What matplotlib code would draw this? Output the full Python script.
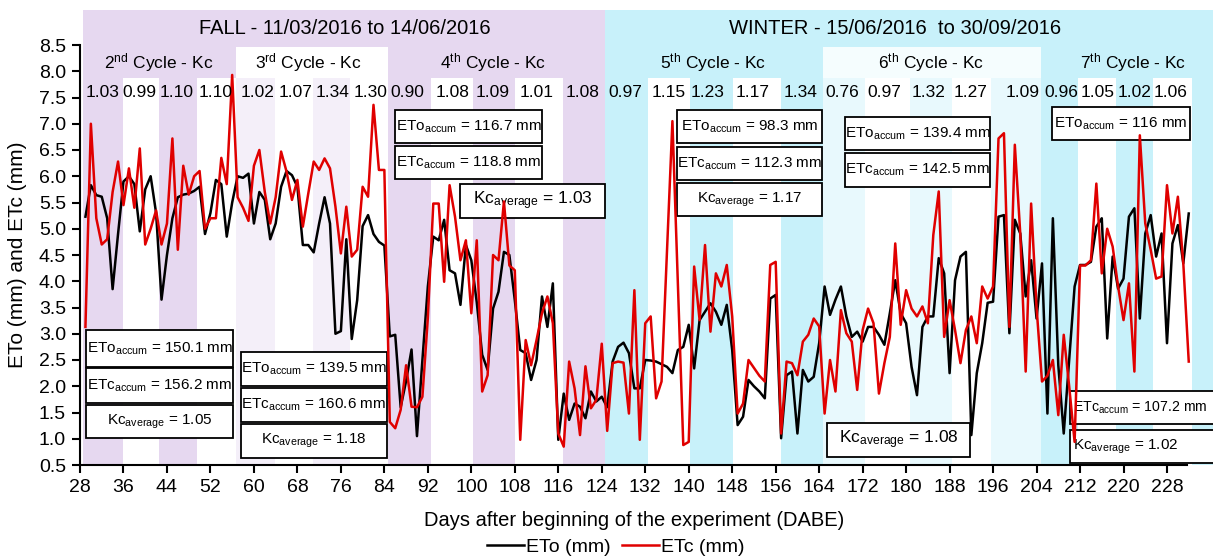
import numpy as np
import matplotlib.pyplot as plt
from matplotlib.patches import Rectangle
from matplotlib.lines import Line2D

plt.rcParams['font.family'] = ['Liberation Sans', 'DejaVu Sans']
plt.rcParams['mathtext.default'] = 'regular'

# daily reference evapotranspiration (ETo) and crop evapotranspiration (ETc), days 29..232
eto = [5.23, 5.83, 5.64, 5.61, 5.2, 3.85, 4.9, 5.9, 6.0, 5.85,
       4.95, 5.75, 6.0, 5.3, 3.65, 4.5, 5.2, 5.6, 5.65, 5.67,
       5.72, 5.8, 4.9, 5.3, 5.93, 5.85, 4.85, 5.5, 6.0, 5.97,
       6.05, 5.1, 5.7, 5.55, 4.8, 5.1, 5.8, 6.1, 6.02, 5.8,
       4.69, 4.69, 4.55, 5.1, 5.6, 5.1, 3.0, 3.05, 4.8, 2.9,
       3.64, 5.05, 5.26, 4.9, 4.75, 4.68, 2.95, 2.98, 1.6, 2.1,
       2.7, 1.05, 2.5, 3.9, 4.85, 4.78, 5.17, 4.21, 4.15, 3.55,
       4.69, 4.4, 3.6, 2.6, 2.31, 3.48, 3.8, 4.56, 4.5, 3.64,
       2.69, 2.63, 2.12, 2.5, 3.71, 3.13, 3.96, 0.98, 1.86, 1.36,
       1.67, 1.61, 1.39, 1.9, 1.71, 1.8, 1.6, 2.47, 2.75, 2.83,
       2.63, 1.96, 1.96, 2.5, 2.49, 2.47, 2.42, 2.37, 2.25, 2.69,
       2.75, 3.17, 2.34, 3.26, 3.42, 3.58, 3.42, 3.17, 3.55, 2.69,
       1.26, 1.42, 2.12, 2.0, 1.9, 1.77, 3.67, 3.74, 1.01, 2.21,
       2.28, 1.1, 2.31, 2.09, 2.18, 2.82, 3.9, 3.36, 3.65, 3.9,
       3.33, 2.94, 3.04, 2.85, 3.13, 3.13, 2.98, 2.79, 3.39, 4.02,
       3.39, 3.2, 2.37, 1.83, 3.13, 3.33, 3.33, 4.44, 4.15, 2.25,
       4.02, 4.47, 4.56, 1.07, 2.25, 2.82, 3.59, 3.61, 5.23, 5.26,
       3.01, 5.17, 4.91, 3.71, 4.4, 3.29, 4.34, 1.48, 5.2, 2.4,
       1.1, 2.5, 3.9, 4.31, 4.31, 4.37, 5.04, 5.2, 2.91, 4.47,
       3.86, 4.05, 5.23, 5.39, 3.29, 4.91, 5.26, 4.47, 4.91, 2.82,
       4.72, 5.07, 4.34, 5.29]

etc = [3.13, 7.0, 5.2, 4.7, 4.8, 5.7, 6.28, 5.45, 6.15, 5.4,
       6.53, 4.7, 5.0, 5.35, 4.7, 5.1, 6.72, 4.6, 6.2, 5.65,
       6.0, 6.1, 5.0, 5.2, 5.2, 6.35, 5.85, 7.93, 5.6, 5.4,
       5.15, 6.2, 6.5, 5.7, 5.1, 5.6, 6.47, 6.09, 5.55, 5.93,
       5.04, 5.67, 6.28, 6.12, 6.34, 6.15, 5.42, 4.53, 5.42, 4.47,
       4.6, 5.8, 5.61, 7.36, 6.12, 6.12, 1.32, 1.2, 1.55, 2.4,
       1.61, 1.6, 1.8, 3.3, 5.48, 5.48, 3.99, 5.83, 5.23, 4.4,
       4.78, 3.39, 4.78, 1.9, 2.21, 4.5, 4.4, 5.52, 4.3, 4.21,
       0.98, 2.88, 2.4, 2.88, 3.39, 3.71, 3.2, 1.1, 0.85, 2.47,
       1.96, 1.07, 2.38, 1.58, 1.74, 2.81, 1.15, 2.44, 2.47, 2.45,
       1.48, 3.83, 0.98, 3.2, 3.33, 1.77, 2.09, 4.58, 7.05, 3.97,
       0.88, 0.94, 4.28, 3.26, 4.69, 3.04, 4.15, 3.9, 4.31, 3.33,
       1.48, 1.67, 2.5, 2.35, 2.2, 2.09, 4.31, 4.37, 1.1, 2.47,
       2.44, 2.21, 2.85, 2.98, 3.29, 3.14, 1.48, 2.5, 1.9, 3.45,
       3.01, 2.85, 1.93, 3.07, 3.48, 3.2, 1.86, 2.44, 2.94, 4.72,
       3.17, 3.83, 3.48, 3.33, 3.52, 3.2, 4.88, 5.71, 2.94, 3.64,
       3.07, 2.44, 3.07, 3.33, 2.82, 3.9, 3.67, 3.9, 6.72, 6.82,
       3.13, 6.6, 4.91, 2.28, 5.48, 3.5, 2.09, 2.2, 2.5, 1.45,
       2.98, 2.0, 0.94, 4.3, 4.3, 4.4, 5.86, 4.15, 5.0, 4.66,
       3.9, 3.26, 3.96, 2.28, 6.78, 5.1, 4.6, 4.05, 4.09, 5.83,
       4.91, 5.61, 4.34, 2.47]

days = np.arange(29, 29 + len(eto))

# weekly Kc values and their centre day
kc_values = ['1.03', '0.99', '1.10', '1.10', '1.02', '1.07', '1.34', '1.30', '0.90',
             '1.08', '1.09', '1.01', '1.08', '0.97', '1.15', '1.23', '1.17', '1.34',
             '0.76', '0.97', '1.32', '1.27', '1.09', '0.96', '1.05', '1.02', '1.06']
kc_days = [32.2, 39.0, 45.8, 53.0, 60.6, 67.6, 74.5, 81.5, 88.2,
           96.6, 104.0, 112.1, 120.5, 128.3, 136.4, 143.4, 151.8, 160.5,
           168.2, 175.9, 184.2, 191.8, 201.5, 208.5, 215.3, 222.1, 228.7]

cycle_names = ['2$^{nd}$ Cycle - Kc', '3$^{rd}$ Cycle - Kc', '4$^{th}$ Cycle - Kc',
               '5$^{th}$ Cycle - Kc', '6$^{th}$ Cycle - Kc', '7$^{th}$ Cycle - Kc']
cycle_days = [42.4, 70.1, 104.0, 144.5, 184.6, 221.7]

seasons = ['FALL - 11/03/2016 to 14/06/2016', 'WINTER - 15/06/2016  to 30/09/2016']
season_days = [76.8, 178.0]

# summary boxes: text, x0, x1, y0, y1, fontsize
boxes = [
    ('ETo$_{accum}$ = 150.1 mm', 29.1, 56.2, 2.37, 3.07, 11),
    ('ETc$_{accum}$ = 156.2 mm', 29.1, 56.2, 1.68, 2.35, 11),
    ('Kc$_{average}$ = 1.05', 29.1, 56.2, 1.01, 1.64, 11),
    ('ETo$_{accum}$ = 139.5 mm', 57.6, 84.5, 2.0, 2.65, 11),
    ('ETc$_{accum}$ = 160.6 mm', 57.6, 84.5, 1.32, 1.97, 11),
    ('Kc$_{average}$ = 1.18', 57.6, 84.5, 0.63, 1.28, 11),
    ('ETo$_{accum}$ = 116.7 mm', 86.0, 113.0, 6.63, 7.26, 11),
    ('ETc$_{accum}$ = 118.8 mm', 86.0, 113.0, 5.95, 6.58, 11),
    ('Kc$_{average}$ = 1.03', 97.9, 124.6, 5.2, 5.85, 12.5),
    ('ETo$_{accum}$ = 98.3 mm', 137.8, 164.5, 6.63, 7.26, 11),
    ('ETc$_{accum}$ = 112.3 mm', 137.8, 164.5, 5.93, 6.56, 11),
    ('Kc$_{average}$ = 1.17', 137.8, 164.5, 5.24, 5.87, 11),
    ('ETo$_{accum}$ = 139.4 mm', 168.8, 195.4, 6.5, 7.13, 11),
    ('ETc$_{accum}$ = 142.5 mm', 168.8, 195.4, 5.8, 6.44, 11),
    ('Kc$_{average}$ = 1.08', 165.4, 191.8, 0.65, 1.3, 12.5),
    ('ETo$_{accum}$ = 116 mm', 206.8, 232.2, 6.69, 7.32, 11),
    ('ETc$_{accum}$ = 107.2 mm', 210.2, 237.0, 1.28, 1.91, 10.2),
    ('Kc$_{average}$ = 1.02', 210.2, 237.0, 0.54, 1.17, 11),
]

purple = '#e6d8f0'
cyan = '#c8f1fa'
light_purple = '#f4eff9'
light_cyan = '#e8f9fd'

fig = plt.figure(figsize=(12.13, 5.59), dpi=100)
ax = fig.add_axes([80 / 1213, 94 / 559, 1133 / 1213, 455 / 559])
ax.set_xlim(28, 28 + 1133 / 5.435)
ax.set_ylim(0.5, 0.5 + 455 / 52.5)

# season backgrounds
ax.axvspan(28.5, 124.6, color=purple, lw=0, zorder=0)
ax.axvspan(124.6, 240, color=cyan, lw=0, zorder=0)
# 3rd and 6th cycle light blocks
ax.axvspan(56.7, 84.7, ymax=0.919, color='white', lw=0, zorder=0)
ax.axvspan(164.7, 204.8, ymax=0.919, color='#f5fdfe', lw=0, zorder=0)
for a, b in [(56.7, 63.8), (70.9, 77.7)]:
    ax.axvspan(a, b, ymax=0.85, color=light_purple, lw=0, zorder=0)
for a, b in [(164.7, 172.4), (180.7, 188.4), (195.6, 204.8)]:
    ax.axvspan(a, b, ymax=0.85, color=light_cyan, lw=0, zorder=0)
# weekly white stripes
for a, b in [(36.0, 42.6), (49.5, 56.7), (92.6, 100.3), (108.0, 116.9),
             (132.5, 140.2), (148.1, 157.0), (172.4, 180.7), (188.4, 195.6),
             (211.6, 218.6), (225.4, 232.6)]:
    ax.axvspan(a, b, ymax=0.85, color='white', lw=0, zorder=0)

for text, x0, x1, y0, y1, fs in boxes:
    ax.add_patch(Rectangle((x0, y0), x1 - x0, y1 - y0, facecolor='white',
                           edgecolor='black', lw=1.3, zorder=2, clip_on=False))
    if x1 > 236:
        ax.text(x0 + 0.5, (y0 + y1) / 2, text, ha='left', va='center',
                fontsize=fs, zorder=2.5)
    else:
        ax.text((x0 + x1) / 2, (y0 + y1) / 2, text, ha='center', va='center',
                fontsize=fs, zorder=2.5)

ax.plot(days, eto, color='black', lw=1.8, zorder=3)
ax.plot(days, etc, color='#e00000', lw=1.8, zorder=3)

for name, d in zip(seasons, season_days):
    ax.text(d, 8.82, name, ha='center', va='center', fontsize=14.5)
for name, d in zip(cycle_names, cycle_days):
    ax.text(d, 8.16, name, ha='center', va='center', fontsize=12.5)
for v, d in zip(kc_values, kc_days):
    ax.text(d, 7.6, v, ha='center', va='center', fontsize=12.5)

for s in ['top', 'right']:
    ax.spines[s].set_visible(False)
ax.spines['left'].set_bounds(0.5, 8.5)
ax.spines['bottom'].set_bounds(28, 231.7)
for s in ['left', 'bottom']:
    ax.spines[s].set_linewidth(1.5)
ax.set_yticks(np.arange(0.5, 8.51, 0.5))
ax.set_yticklabels(['%.1f' % v for v in np.arange(0.5, 8.51, 0.5)])
ax.set_xticks(range(28, 229, 8))
ax.tick_params(direction='out', length=6, width=1.5, labelsize=14, pad=4)

fig.text(634 / 1213, 1 - 520 / 559, 'Days after beginning of the experiment (DABE)',
         ha='center', va='center', fontsize=14.5)
fig.text(18 / 1213, 1 - 255 / 559, 'ETo (mm) and ETc (mm)', rotation=90,
         ha='center', va='center', fontsize=15)

handles = [Line2D([], [], color='black', lw=1.8), Line2D([], [], color='#e00000', lw=1.8)]
fig.legend(handles, ['ETo (mm)', 'ETc (mm)'], loc='center', ncol=2,
           bbox_to_anchor=(616 / 1213, 1 - 547 / 559), frameon=False, fontsize=14,
           handlelength=1.9, handletextpad=0.1, columnspacing=0.6,
           borderpad=0, borderaxespad=0)

fig.savefig('out.png', dpi=100)
